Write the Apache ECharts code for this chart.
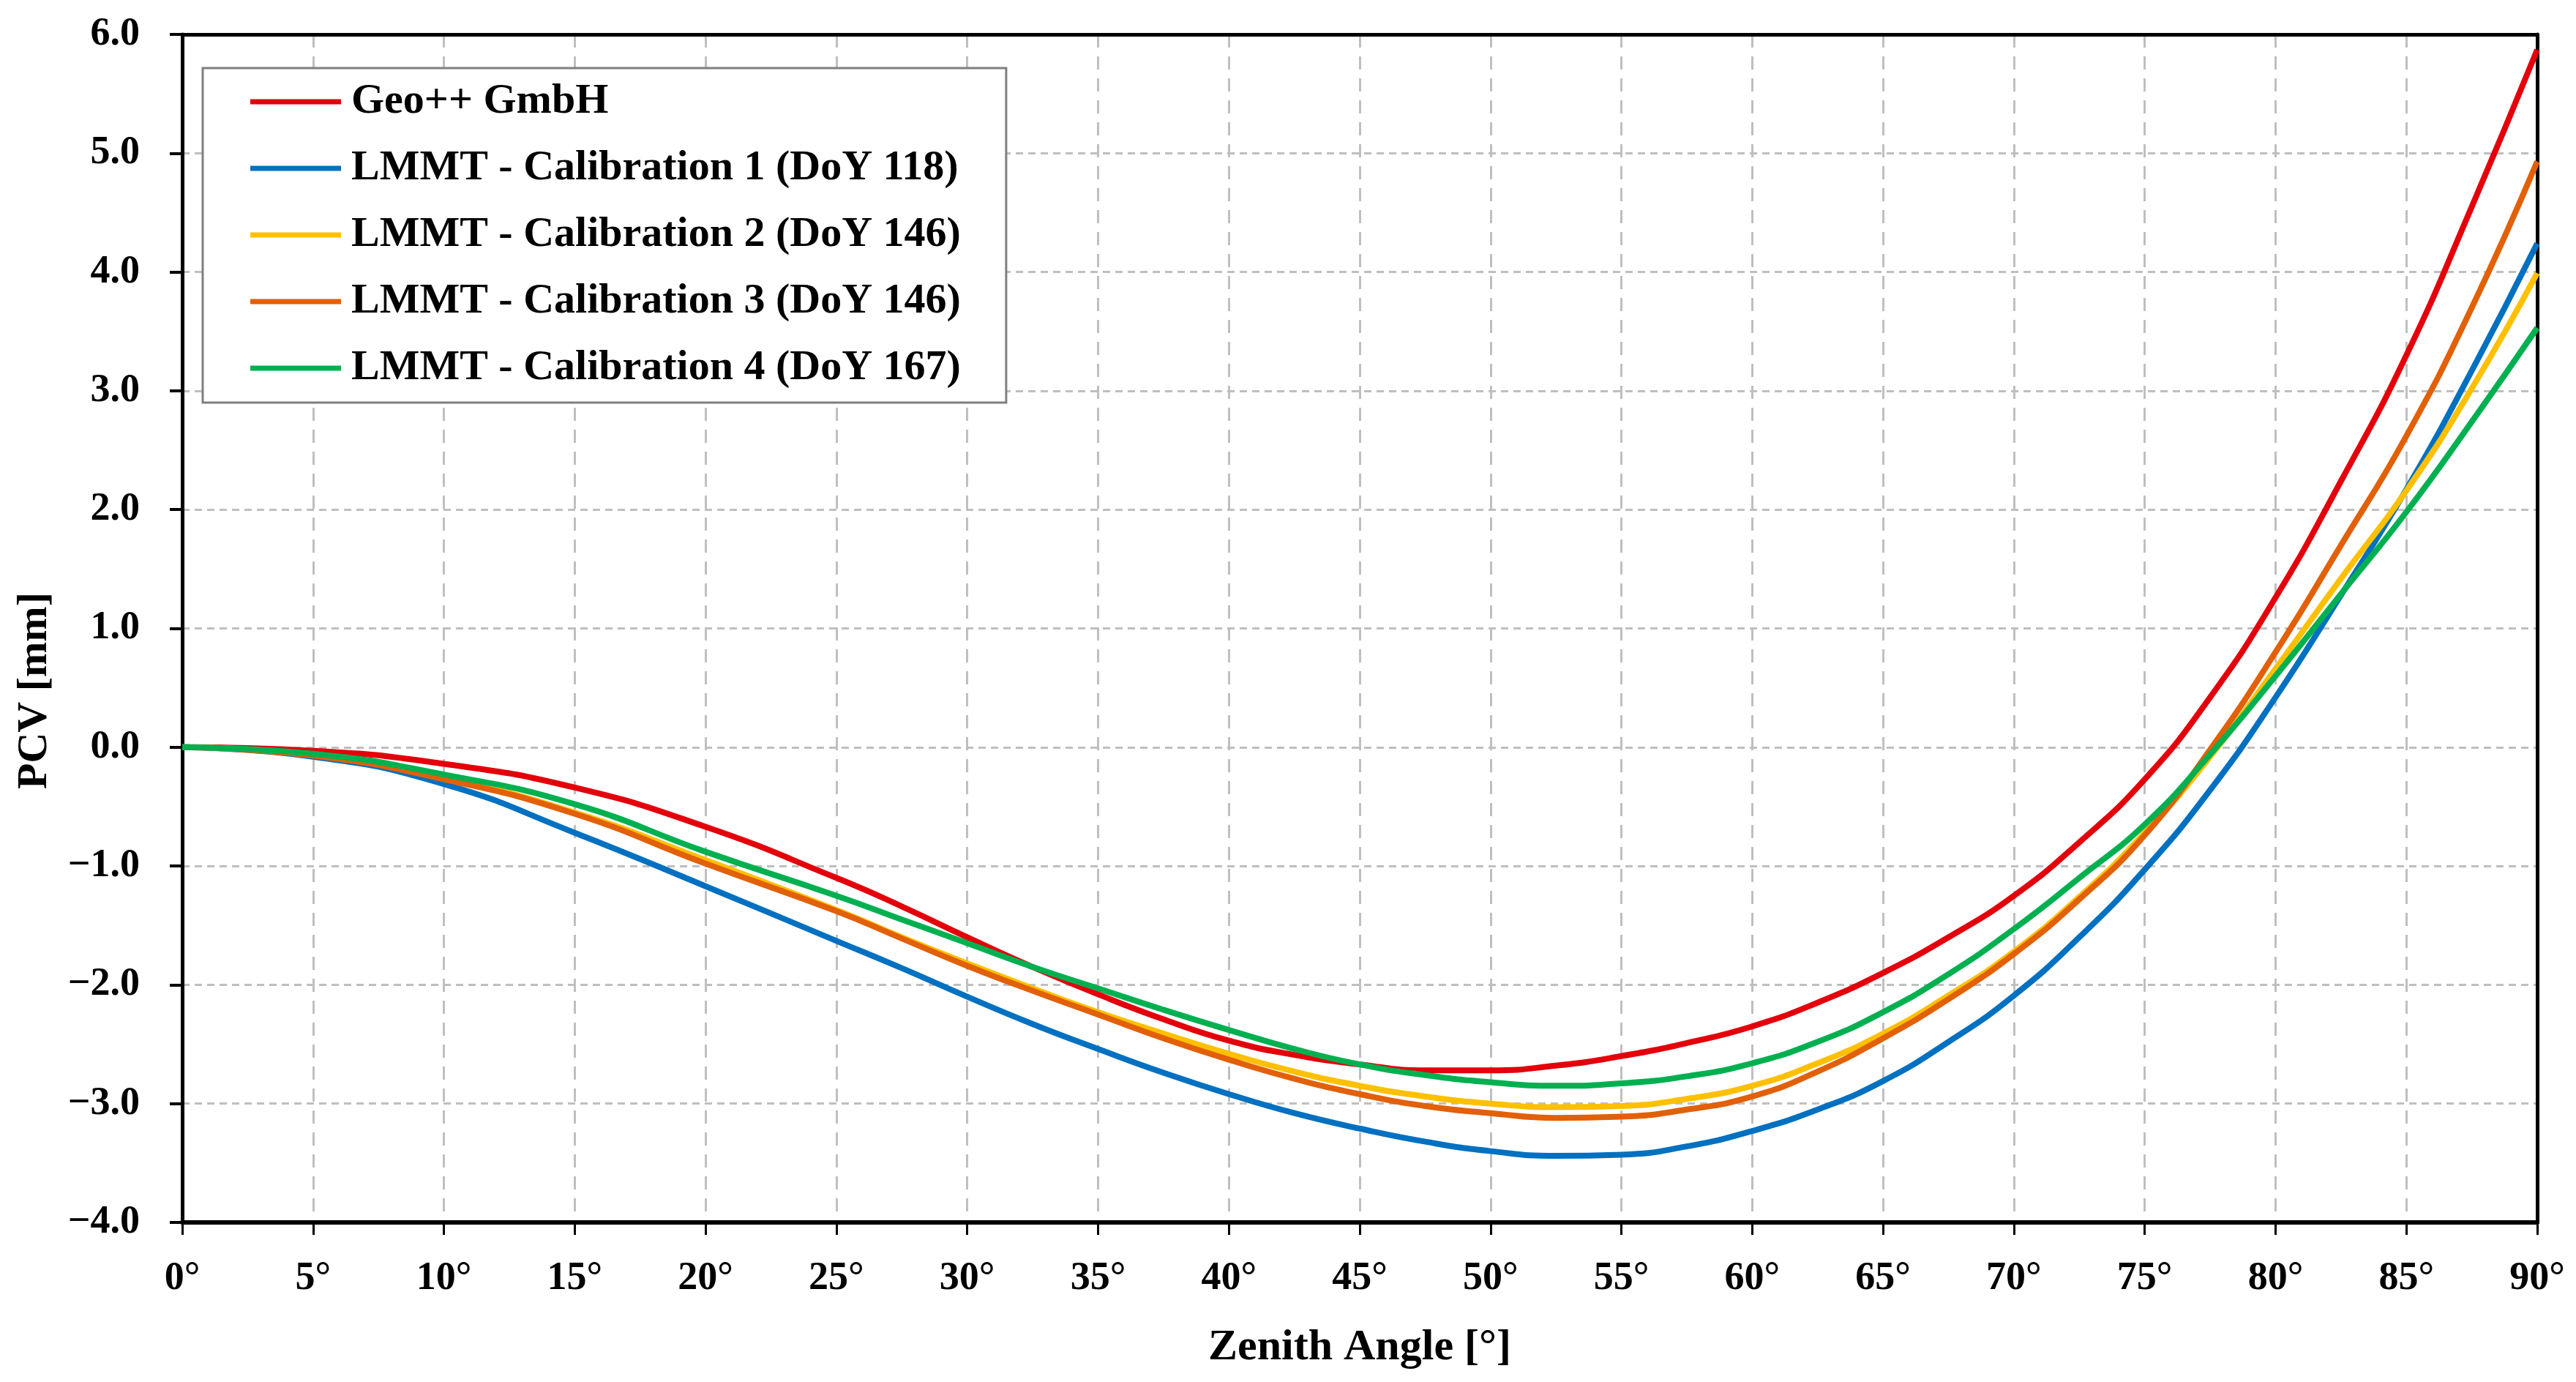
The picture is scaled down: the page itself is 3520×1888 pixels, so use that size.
<!DOCTYPE html>
<html>
<head>
<meta charset="utf-8">
<script src="https://cdn.jsdelivr.net/npm/echarts@6/dist/echarts.min.js"></script>
<style>
html,body{margin:0;padding:0;background:#fff;}
#chart{width:3520px;height:1888px;}
</style>
</head>
<body>
<div id="chart"></div>
<script>
// Zenith angle sample positions (degrees)
const angles = [0,5,10,15,20,25,27.5,30,32.5,35,37.5,40,42.5,45,47.5,50,52.5,55,57.5,60,62.5,65,67.5,70,72.5,75,77.5,80,82.5,85,87.5,90];
// Series values (PCV in mm)
const geoPP = [0,-0.03,-0.14,-0.34,-0.67,-1.10,-1.34,-1.60,-1.85,-2.08,-2.29,-2.47,-2.59,-2.67,-2.72,-2.72,-2.68,-2.60,-2.49,-2.35,-2.15,-1.90,-1.60,-1.25,-0.80,-0.27,0.42,1.26,2.24,3.30,4.55,5.87];
const cal1  = [0,-0.08,-0.31,-0.72,-1.17,-1.63,-1.86,-2.10,-2.33,-2.54,-2.74,-2.92,-3.08,-3.21,-3.32,-3.40,-3.44,-3.43,-3.36,-3.23,-3.05,-2.81,-2.48,-2.09,-1.60,-1.03,-0.36,0.42,1.28,2.17,3.17,4.24];
const cal2  = [0,-0.065,-0.26,-0.55,-0.95,-1.37,-1.60,-1.82,-2.03,-2.23,-2.41,-2.58,-2.73,-2.85,-2.94,-3.00,-3.03,-3.02,-2.96,-2.85,-2.66,-2.41,-2.09,-1.72,-1.26,-0.72,-0.08,0.66,1.42,2.16,3.02,3.99];
const cal3  = [0,-0.07,-0.27,-0.56,-0.98,-1.38,-1.61,-1.84,-2.05,-2.25,-2.45,-2.63,-2.79,-2.92,-3.02,-3.08,-3.12,-3.11,-3.05,-2.94,-2.73,-2.45,-2.12,-1.74,-1.28,-0.74,-0.02,0.80,1.70,2.62,3.70,4.93];
const cal4  = [0,-0.055,-0.23,-0.48,-0.88,-1.25,-1.45,-1.65,-1.85,-2.03,-2.21,-2.38,-2.54,-2.67,-2.76,-2.82,-2.85,-2.83,-2.77,-2.66,-2.48,-2.23,-1.91,-1.53,-1.10,-0.65,-0.06,0.60,1.29,1.98,2.74,3.53];
const seriesNames = ['Geo++ GmbH','LMMT - Calibration 1 (DoY 118)','LMMT - Calibration 2 (DoY 146)','LMMT - Calibration 3 (DoY 146)','LMMT - Calibration 4 (DoY 167)'];
const seriesColors = ['#E3000B','#0070C0','#FFC000','#E26007','#00B050'];
const yTicks = [-4,-3,-2,-1,0,1,2,3,4,5,6];

const allValues = [geoPP, cal1, cal2, cal3, cal4];
const FONT = '"Liberation Serif", "DejaVu Serif", serif';

const chart = echarts.init(document.getElementById('chart'));
chart.setOption({
  backgroundColor: '#fff',
  animation: false,
  textStyle: { fontFamily: FONT, fontWeight: 'bold', color: '#000' },
  grid: { left: 249, right: 53, top: 47, bottom: 218, outerBoundsMode: 'none', containLabel: false },
  legend: {
    orient: 'vertical',
    left: 277, top: 93,
    padding: [17, 62, 18, 65],
    itemWidth: 124, itemHeight: 7,
    itemGap: 33,
    icon: 'rect',
    backgroundColor: '#fff',
    borderColor: '#7F7F7F', borderWidth: 3,
    textStyle: { fontFamily: FONT, fontWeight: 'bold', fontSize: 58, color: '#000', lineHeight: 58, padding: [0,0,0,9] },
    data: seriesNames
  },
  xAxis: [{
    type: 'value', min: 0, max: 90, interval: 5,
    name: 'Zenith Angle [°]', nameLocation: 'middle', nameGap: 141,
    nameTextStyle: { fontFamily: FONT, fontWeight: 'bold', fontSize: 60, color: '#000' },
    axisLine: { show: true, onZero: false, lineStyle: { color: '#000', width: 6 } },
    axisTick: { show: true, length: 17, lineStyle: { color: '#000', width: 3 } },
    axisLabel: { margin: 50, fontFamily: FONT, fontWeight: 'bold', fontSize: 54, color: '#000', formatter: v => v + '°' },
    splitLine: { show: true, lineStyle: { color: '#BFBFBF', width: 3, type: [18, 12] } }
  }, {
    type: 'value', min: 0, max: 90, interval: 5, position: 'top',
    axisLine: { show: true, onZero: false, lineStyle: { color: '#000', width: 5 } },
    axisTick: { show: false }, axisLabel: { show: false }, splitLine: { show: false }
  }],
  yAxis: [{
    type: 'value', min: yTicks[0], max: yTicks[yTicks.length-1], interval: 1,
    name: 'PCV [mm]', nameLocation: 'middle', nameGap: 172, nameRotate: 90,
    nameTextStyle: { fontFamily: FONT, fontWeight: 'bold', fontSize: 58, color: '#000', padding: [0, 170, 0, 0] },
    axisLine: { show: true, onZero: false, lineStyle: { color: '#000', width: 5 } },
    axisTick: { show: true, length: 17, lineStyle: { color: '#000', width: 4 } },
    axisLabel: { margin: 58, fontFamily: FONT, fontWeight: 'bold', fontSize: 54, color: '#000',
      formatter: v => (v < 0 ? '\u2212' : '') + Math.abs(v).toFixed(1) },
    splitLine: { show: true, lineStyle: { color: '#BFBFBF', width: 3, type: [10, 7] } }
  }, {
    type: 'value', min: yTicks[0], max: yTicks[yTicks.length-1], interval: 1, position: 'right',
    axisLine: { show: true, onZero: false, lineStyle: { color: '#000', width: 5 } },
    axisTick: { show: false }, axisLabel: { show: false }, splitLine: { show: false }
  }],
  series: allValues.map((vals, i) => ({
    name: seriesNames[i],
    type: 'line',
    smooth: 0.5,
    symbol: 'none',
    color: seriesColors[i],
    lineStyle: { width: 8, color: seriesColors[i] },
    data: angles.map((a, j) => [a, vals[j]])
  }))
});
</script>
</body>
</html>
